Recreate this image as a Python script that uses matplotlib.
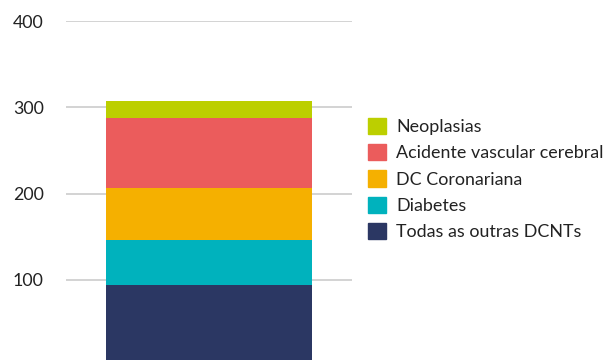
import matplotlib.pyplot as plt
from matplotlib.patches import Patch

# stacked values, bottom to top
categories = ['Todas as outras DCNTs', 'Diabetes', 'DC Coronariana',
              'Acidente vascular cerebral', 'Neoplasias']
values = [94, 52, 61, 81, 20]
colors = ['#2b3763', '#00b2bd', '#f5b000', '#eb5c5c', '#bccf00']
yticks = [100, 200, 300, 400]

plt.rcParams['font.family'] = ['Lato', 'DejaVu Sans']

fig = plt.figure(figsize=(6.09, 3.6), dpi=100)
ax = fig.add_axes([66 / 609, 0, 286 / 609, 1 - 21.3 / 360])

bottom = 0
for cat, v, c in zip(categories, values, colors):
    ax.bar(0.5, v, width=0.72, bottom=bottom, color=c, label=cat, zorder=3)
    bottom += v

ax.set_xlim(0, 1)
ax.set_ylim(6.7, 400)
ax.set_yticks(yticks)
ax.set_yticklabels([str(t) for t in yticks], fontsize=12.8, color='#222222')
ax.tick_params(axis='y', length=0, pad=16)
ax.set_xticks([])
ax.yaxis.grid(True, color='#c8c8c8', linewidth=1.1, zorder=0)
for s in ax.spines.values():
    s.set_visible(False)

handles = [Patch(color=c, label=cat) for cat, c in zip(categories, colors)][::-1]
fig.legend(handles=handles, loc='upper left', bbox_to_anchor=(368 / 609, 1 - 118 / 360),
           frameon=False, fontsize=12.9, handlelength=1.02, handleheight=1.02,
           labelspacing=0.5, handletextpad=0.55, borderpad=0, borderaxespad=0,
           labelcolor='#222222')

fig.savefig('out.png', dpi=100)
